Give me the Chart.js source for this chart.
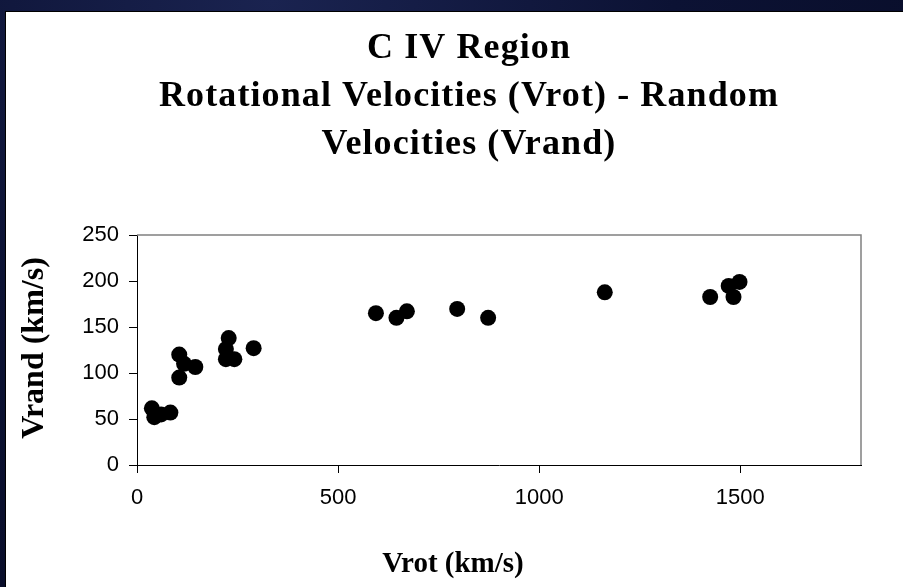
<!DOCTYPE html>
<html>
<head>
<meta charset="utf-8">
<script src="https://cdn.jsdelivr.net/npm/chart.js@4/dist/chart.umd.min.js"></script>
<style>
  html, body { margin: 0; padding: 0; width: 903px; height: 587px; overflow: hidden;
    background: radial-gradient(ellipse at 30% 0%, #1a2350 0%, #0c1234 45%, #070b24 100%); }
  #panel { position: absolute; left: 5px; top: 11px; width: 898px; height: 576px; background: #fff;
    border-left: 1px solid #000; border-top: 1px solid #000; box-sizing: border-box; }
  canvas { position: absolute; left: 0; top: 0; }
</style>
</head>
<body>
<div id="panel"><canvas id="c" width="898" height="576"></canvas></div>
<script>
// ---- data ----
const titleLines = ["C IV Region", "Rotational Velocities (Vrot) - Random", "Velocities (Vrand)"];
const xAxisTitle = "Vrot (km/s)";
const yAxisTitle = "Vrand (km/s)";
const xTicks = [0, 500, 1000, 1500];
const yTicks = [0, 50, 100, 150, 200, 250];
const vrot  = [37, 43, 60, 83, 105, 105, 117, 145, 228, 221, 221, 242, 290, 594, 645, 671, 796, 873, 1163, 1425, 1471, 1483, 1498];
const vrand = [61.6, 52, 55, 57, 120, 95, 110, 106.5, 138, 126, 115, 115, 127, 165, 160, 167, 169.6, 160, 187.7, 182.6, 194.6, 182.6, 199];

const points = vrot.map((x, i) => ({ x: x, y: vrand[i] }));

const serif = "'Liberation Serif', 'Times New Roman', serif";

const textPlugin = {
  id: 'texts',
  beforeDatasetsDraw(chart) {
    const { ctx, chartArea: a } = chart;
    ctx.save();
    ctx.strokeStyle = '#808080';
    ctx.lineWidth = 1.5;
    ctx.beginPath();
    ctx.moveTo(a.left, a.top);
    ctx.lineTo(a.right, a.top);
    ctx.lineTo(a.right, a.bottom);
    ctx.stroke();
    ctx.restore();
  },
  afterDraw(chart) {
    const ctx = chart.ctx;
    ctx.save();
    ctx.fillStyle = '#000';
    ctx.textAlign = 'center';
    ctx.textBaseline = 'alphabetic';
    ctx.font = "bold 36px " + serif;
    if ('letterSpacing' in ctx) ctx.letterSpacing = '1.1px';
    const baselines = [46, 94, 142];
    titleLines.forEach((t, i) => ctx.fillText(t, 463, baselines[i]));
    if ('letterSpacing' in ctx) ctx.letterSpacing = '0px';
    ctx.font = "bold 29px " + serif;
    ctx.fillText(xAxisTitle, 447, 560);
    ctx.translate(37, 336);
    ctx.rotate(-Math.PI / 2);
    ctx.font = "bold 32px " + serif;
    ctx.fillText(yAxisTitle, 0, 0);
    ctx.restore();
  }
};

Chart.defaults.color = '#000';
Chart.defaults.font.family = "'Liberation Sans', Arial, sans-serif";

new Chart(document.getElementById('c'), {
  type: 'scatter',
  data: {
    datasets: [{
      data: points,
      backgroundColor: '#000',
      borderWidth: 0,
      pointRadius: 8,
      pointHoverRadius: 8
    }]
  },
  options: {
    responsive: false,
    animation: false,
    events: [],
    layout: { padding: { top: 223, right: 43, bottom: 63, left: 71 } },
    plugins: { legend: { display: false }, tooltip: { enabled: false }, title: { display: false } },
    scales: {
      x: {
        type: 'linear',
        min: 0, max: 1800,
        afterBuildTicks(s) { s.ticks = xTicks.map(v => ({ value: v })); },
        afterFit(s) { s.height = 60; },
        border: { color: '#000', width: 1 },
        grid: { drawOnChartArea: false, tickLength: 8, color: '#000' },
        ticks: { padding: 12, font: { size: 22 }, color: '#000', maxRotation: 0, autoSkip: false,
                 callback: v => String(v) }
      },
      y: {
        type: 'linear',
        min: 0, max: 250,
        afterBuildTicks(s) { s.ticks = yTicks.map(v => ({ value: v })); },
        afterFit(s) { s.width = 60; },
        border: { color: '#000', width: 1 },
        grid: { drawOnChartArea: false, tickLength: 8, color: '#000' },
        ticks: { padding: 10, font: { size: 22 }, color: '#000', autoSkip: false, callback: v => String(v) }
      }
    }
  },
  plugins: [textPlugin]
});
</script>
</body>
</html>
